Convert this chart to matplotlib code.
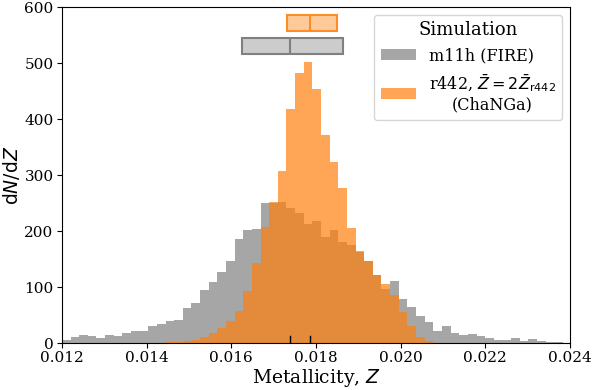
import numpy as np
import matplotlib
matplotlib.use("Agg")
import matplotlib.pyplot as plt

plt.rcParams['font.family'] = 'DejaVu Serif'
plt.rcParams['mathtext.fontset'] = 'dejavusans'

# histogram bins (shared by both runs)
z_start = 0.0120
bin_width = 0.000204
n_bins = 58
edges = z_start + bin_width * np.arange(n_bins + 1)

# dN/dZ counts per bin
fire_counts = [5, 11, 14, 13, 9, 14, 13, 18, 21, 22,
               30, 34, 39, 41, 63, 71, 94, 109, 126, 147,
               186, 201, 204, 250, 250, 252, 241, 232, 213, 217,
               190, 201, 180, 175, 162, 147, 122, 96, 110, 79,
               65, 49, 37, 22, 30, 18, 15, 16, 12, 9,
               5, 5, 9, 4, 8, 4, 1, 1]
changa_counts = [0, 0, 0, 0, 0, 0, 0, 0, 0, 0,
                 0, 0, 1, 2, 3, 5, 11, 18, 26, 39,
                 57, 92, 143, 208, 252, 308, 418, 483, 501, 454,
                 371, 323, 277, 205, 165, 146, 121, 105, 86, 56,
                 31, 11, 3, 0, 0, 0, 0, 0, 0, 0,
                 0, 0, 0, 0, 0, 0, 0, 0]

# quartiles (q1, median, q3) shown as boxes above the histograms
fire_quart = [0.01626, 0.01739, 0.01865]
changa_quart = [0.01732, 0.01786, 0.01850]

labels = ['m11h (FIRE)', 'r442, $\\bar{Z} = 2\\bar{Z}_{\\rm r442}$\n(ChaNGa)']

fig = plt.figure(figsize=(5.95, 3.9), dpi=100)
ax = fig.add_axes([0.104, 0.1205, 0.854, 0.8615])

ax.hist(edges[:-1], bins=edges, weights=fire_counts, color='gray', alpha=0.7, label=labels[0])
ax.hist(edges[:-1], bins=edges, weights=changa_counts, color='tab:orange', alpha=0.7, label=labels[1])

# quartile boxes
for quart, ypos, face, edge in [(fire_quart, 531, '#cccccc', '#808080'),
                                 (changa_quart, 571, '#ffca99', '#ff8c26')]:
    stats = [dict(q1=quart[0], med=quart[1], q3=quart[2], whislo=quart[0], whishi=quart[2], fliers=[])]
    ax.bxp(stats, positions=[ypos], widths=29, orientation='horizontal', patch_artist=True,
           showcaps=False, showfliers=False, manage_ticks=False,
           boxprops=dict(facecolor=face, edgecolor=edge, lw=1.5),
           medianprops=dict(color=edge, lw=1.5),
           whiskerprops=dict(color=edge, lw=0))
    # median marker on the axis
    ax.plot([quart[1], quart[1]], [0, 12], color='k', lw=1)

ax.set_xlim(0.012, 0.024)
ax.set_ylim(0, 600)
ax.set_xticks(np.arange(0.012, 0.0241, 0.002))
ax.set_xticklabels(['%.3f' % v for v in np.arange(0.012, 0.0241, 0.002)])
ax.tick_params(labelsize=11, pad=2.5)
ax.set_xlabel('Metallicity, $Z$', fontsize=13.5, labelpad=1)
ax.set_ylabel('$\\mathrm{d}N/\\mathrm{d}Z$', fontsize=13.5, labelpad=2)

leg = ax.legend(title='Simulation', loc='upper right', fontsize=11.5, title_fontsize=13,
                handlelength=2.2, borderaxespad=0.5)
for t in leg.get_texts():
    t.set_multialignment('center')

fig.savefig('out.png', dpi=100)
